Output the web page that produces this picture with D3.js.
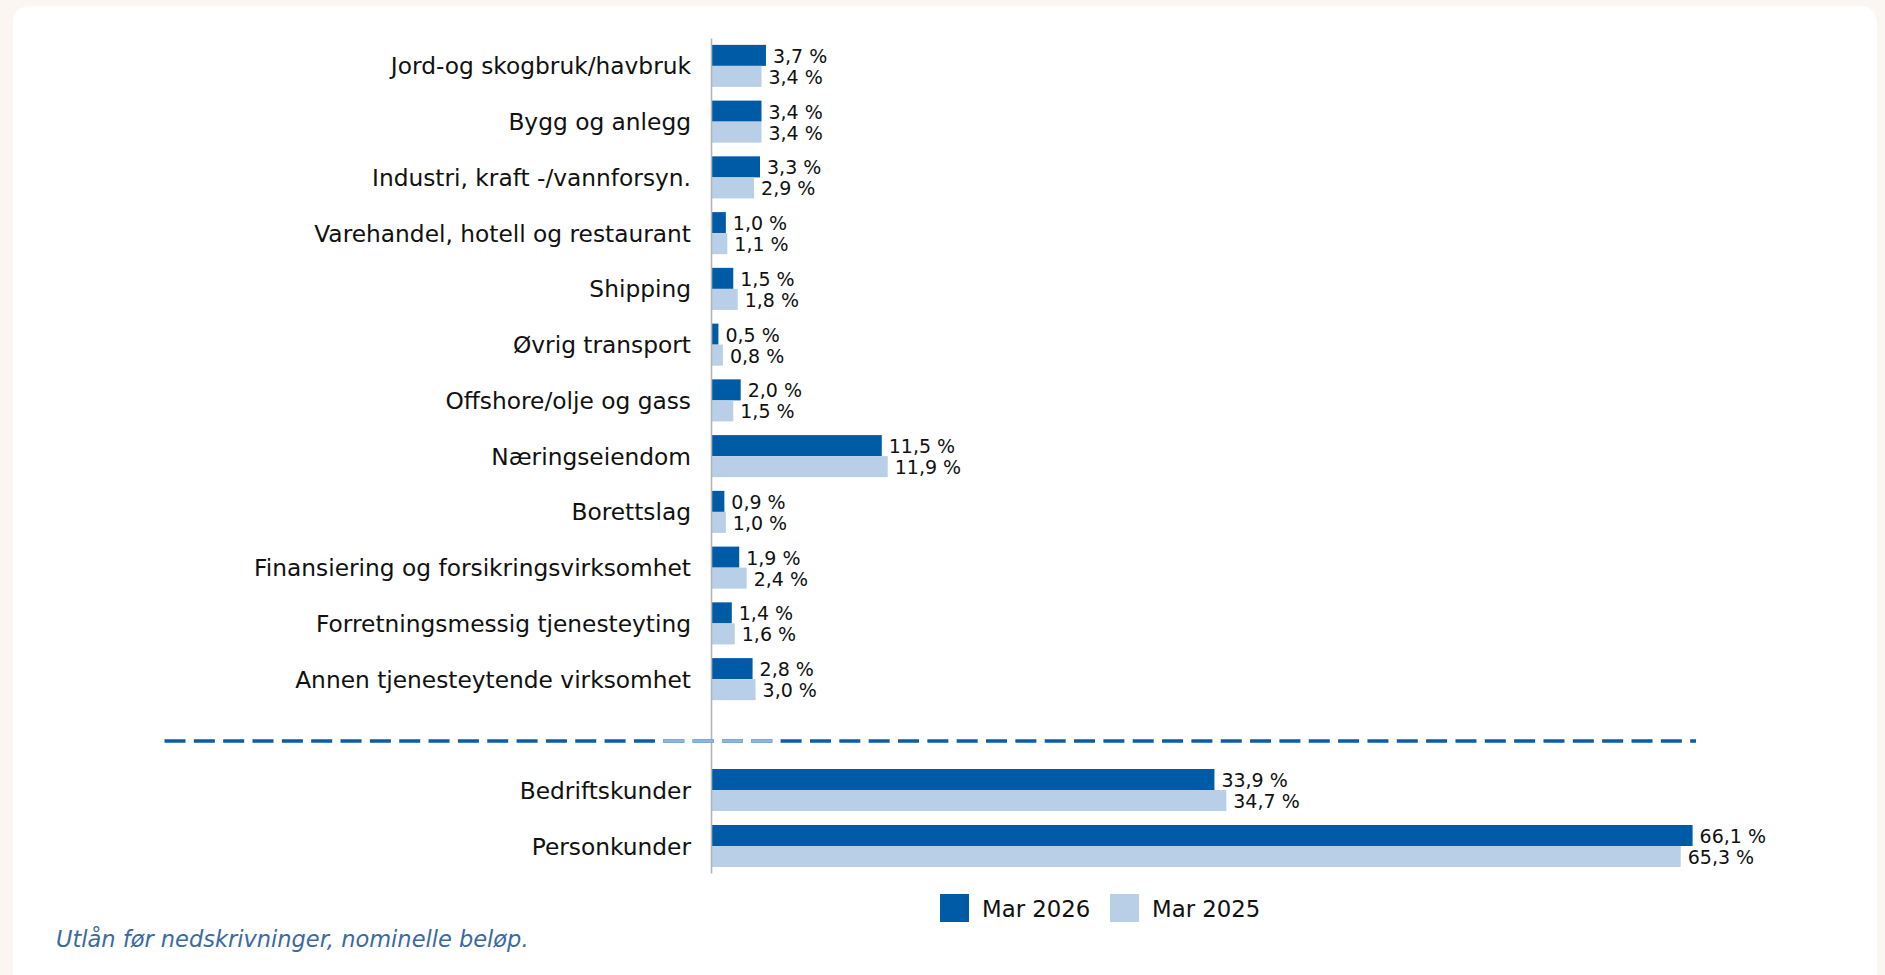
<!DOCTYPE html>
<html>
<head>
<meta charset="utf-8">
<script src="https://cdn.jsdelivr.net/npm/d3@7"></script>
<style>
  html, body { margin: 0; padding: 0; background: #fbf6f1; }
  svg { display: block; }
</style>
</head>
<body>
<svg id="chart" width="1885" height="975"></svg>
<script>
// ---- data ----
const sectorCategories = [
  "Jord-og skogbruk/havbruk",
  "Bygg og anlegg",
  "Industri, kraft -/vannforsyn.",
  "Varehandel, hotell og restaurant",
  "Shipping",
  "Øvrig transport",
  "Offshore/olje og gass",
  "Næringseiendom",
  "Borettslag",
  "Finansiering og forsikringsvirksomhet",
  "Forretningsmessig tjenesteyting",
  "Annen tjenesteytende virksomhet"
];
const sectorMar2026 = [3.7, 3.4, 3.3, 1.0, 1.5, 0.5, 2.0, 11.5, 0.9, 1.9, 1.4, 2.8];
const sectorMar2025 = [3.4, 3.4, 2.9, 1.1, 1.8, 0.8, 1.5, 11.9, 1.0, 2.4, 1.6, 3.0];

const customerCategories = ["Bedriftskunder", "Personkunder"];
const customerMar2026 = [33.9, 66.1];
const customerMar2025 = [34.7, 65.3];

const seriesNames = ["Mar 2026", "Mar 2025"];
const seriesColors = ["#005ba6", "#b8cfe7"];
const footnote = "Utlån før nedskrivninger, nominelle beløp.";

// ---- layout ----
const svg = d3.select("#chart");
const labelFont = "'DejaVu Sans', Lato, sans-serif";

// card
svg.append("rect").attr("x", 13).attr("y", 6).attr("width", 1864).attr("height", 985)
  .attr("rx", 16).attr("ry", 16).attr("fill", "#ffffff");

const x = d3.scaleLinear().domain([0, 70]).range([711, 711 + 70 * 14.85]);

const ySector = d3.scaleBand().domain(sectorCategories).range([38, 707])
  .paddingInner(0.246).paddingOuter(0.123);
const yCustomer = d3.scaleBand().domain(customerCategories).range([762, 874])
  .paddingInner(0.25).paddingOuter(0.125);

function drawGroup(cats, s1, s2, yScale) {
  const sub = d3.scaleBand().domain(seriesNames).range([0, yScale.bandwidth()]);
  const rows = cats.map((c, i) => ({ cat: c, vals: [s1[i], s2[i]] }));
  const g = svg.append("g");
  const row = g.selectAll("g.row").data(rows).join("g")
    .attr("transform", d => `translate(0,${yScale(d.cat)})`);
  row.selectAll("rect").data(d => d.vals.map((v, k) => ({ v, k })))
    .join("rect")
    .attr("x", x(0))
    .attr("y", d => sub(seriesNames[d.k]))
    .attr("width", d => x(d.v) - x(0))
    .attr("height", sub.bandwidth())
    .attr("fill", d => seriesColors[d.k]);
  row.selectAll("text.val").data(d => d.vals.map((v, k) => ({ v, k })))
    .join("text").attr("class", "val")
    .attr("x", d => x(d.v) + 7)
    .attr("y", d => sub(seriesNames[d.k]) + sub.bandwidth() / 2 + 7.5)
    .attr("font-family", labelFont)
    .attr("font-size", 19)
    .attr("fill", "#111")
    .text(d => d3.format(".1f")(d.v).replace(".", ",") + " %");
  // category labels
  g.selectAll("text.cat").data(rows).join("text").attr("class", "cat")
    .attr("x", 691)
    .attr("y", d => yScale(d.cat) + yScale.bandwidth() / 2 + 8.5)
    .attr("text-anchor", "end")
    .attr("font-family", labelFont)
    .attr("font-size", 23.3)
    .attr("fill", "#111")
    .text(d => d.cat);
}

drawGroup(sectorCategories, sectorMar2026, sectorMar2025, ySector);
drawGroup(customerCategories, customerMar2026, customerMar2025, yCustomer);

// axis line
const yAxisScale = d3.scaleLinear().domain([0, 1]).range([38, 873]);
svg.append("g").attr("transform", `translate(${x(0)},0)`)
  .call(d3.axisLeft(yAxisScale).ticks(0).tickSize(0).tickFormat(""))
  .call(g => g.select(".domain").attr("stroke", "#b5b5b5").attr("stroke-width", 1.6));

// dashed separator
const sepY = 741;
svg.append("clipPath").attr("id", "sepclip").append("rect")
  .attr("x", 660).attr("y", 730).attr("width", 121).attr("height", 20);
svg.append("line").attr("x1", 164.5).attr("x2", 1696).attr("y1", sepY).attr("y2", sepY)
  .attr("stroke", "#0c5ca6").attr("stroke-width", 3.5).attr("stroke-dasharray", "21,8.34");
svg.append("line").attr("x1", 164.5).attr("x2", 1696).attr("y1", sepY).attr("y2", sepY)
  .attr("stroke", "#8fb5dc").attr("stroke-width", 3.6).attr("stroke-dasharray", "21,8.34")
  .attr("clip-path", "url(#sepclip)");

// legend
const legend = svg.append("g");
const legX = [940, 1110];
seriesNames.forEach((n, i) => {
  legend.append("rect").attr("x", legX[i]).attr("y", 894).attr("width", 29).attr("height", 28)
    .attr("fill", seriesColors[i]);
  legend.append("text").attr("x", legX[i] + 42).attr("y", 916.5)
    .attr("font-family", labelFont).attr("font-size", 22.8).attr("fill", "#111").text(n);
});

// footnote
svg.append("text").attr("x", 56).attr("y", 946.5)
  .attr("font-family", labelFont).attr("font-style", "italic").attr("font-size", 22.5)
  .attr("fill", "#3a6aa2").text(footnote);
</script>
</body>
</html>
